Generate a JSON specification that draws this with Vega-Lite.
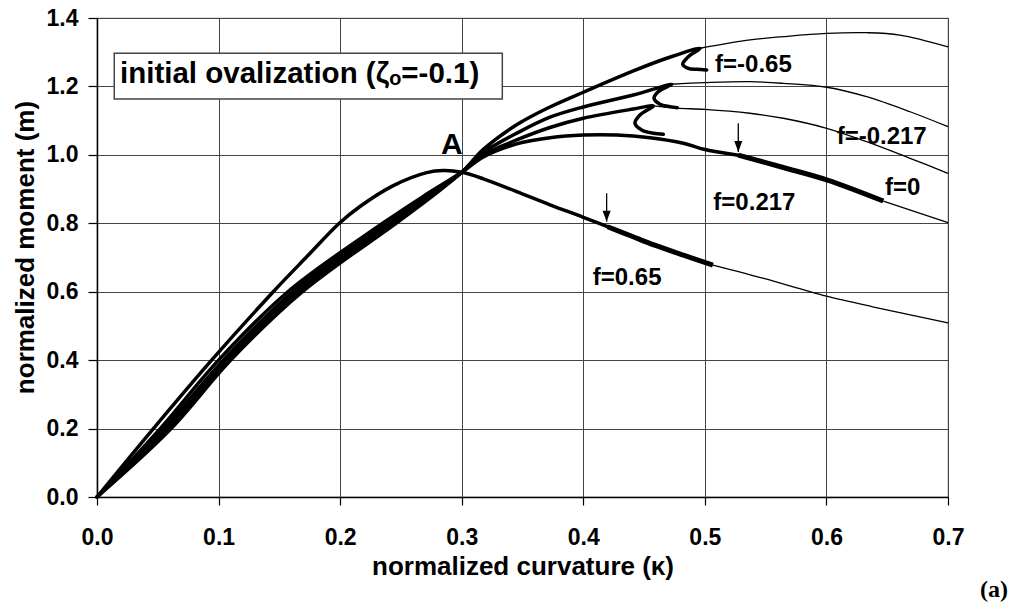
{
  "$schema": "https://vega.github.io/schema/vega-lite/v6.json",
  "width": 851,
  "height": 479,
  "autosize": {"type": "none"},
  "padding": {"left": 97, "top": 18, "right": 66, "bottom": 106},
  "background": "white",
  "config": {
    "font": "Liberation Sans",
    "view": {"stroke": "#808080", "strokeWidth": 1.2},
    "axis": {
      "grid": true,
      "gridColor": "#444444",
      "gridWidth": 1,
      "domainColor": "#000000",
      "domainWidth": 1.5,
      "tickColor": "#000000",
      "tickWidth": 1.2,
      "labelFlush": false,
      "labelOverlap": false,
      "labelFont": "Liberation Sans",
      "labelFontSize": 23,
      "labelFontWeight": "bold",
      "labelColor": "#000000",
      "titleFont": "Liberation Sans",
      "titleFontSize": 26,
      "titleFontWeight": "bold",
      "titleColor": "#000000"
    }
  },
  "datasets": {
    "thick": [
      {"s": "c1", "i": 0, "k": 0, "m": 0},
      {"s": "c1", "i": 1, "k": 0.061, "m": 0.2},
      {"s": "c1", "i": 2, "k": 0.11, "m": 0.4},
      {"s": "c1", "i": 3, "k": 0.169, "m": 0.6},
      {"s": "c1", "i": 4, "k": 0.246, "m": 0.8},
      {"s": "c1", "i": 5, "k": 0.274, "m": 0.874},
      {"s": "c1", "i": 6, "k": 0.3, "m": 0.949},
      {"s": "c1", "i": 7, "k": 0.3178, "m": 1.016},
      {"s": "c1", "i": 8, "k": 0.3452, "m": 1.088},
      {"s": "c1", "i": 9, "k": 0.3726, "m": 1.14},
      {"s": "c1", "i": 10, "k": 0.4, "m": 1.183},
      {"s": "c1", "i": 11, "k": 0.4412, "m": 1.2453},
      {"s": "c1", "i": 12, "k": 0.4686, "m": 1.2823},
      {"s": "c1", "i": 13, "k": 0.496, "m": 1.3116},
      {"s": "c1", "i": 14, "k": 0.4864, "m": 1.287},
      {"s": "c1", "i": 15, "k": 0.4818, "m": 1.265},
      {"s": "c1", "i": 16, "k": 0.4864, "m": 1.253},
      {"s": "c1", "i": 17, "k": 0.4933, "m": 1.25},
      {"s": "c1", "i": 18, "k": 0.5015, "m": 1.248},
      {"s": "c2", "i": 0, "k": 0, "m": 0},
      {"s": "c2", "i": 1, "k": 0.058, "m": 0.2},
      {"s": "c2", "i": 2, "k": 0.107, "m": 0.4},
      {"s": "c2", "i": 3, "k": 0.165, "m": 0.6},
      {"s": "c2", "i": 4, "k": 0.243, "m": 0.8},
      {"s": "c2", "i": 5, "k": 0.272, "m": 0.874},
      {"s": "c2", "i": 6, "k": 0.3, "m": 0.949},
      {"s": "c2", "i": 7, "k": 0.3178, "m": 1.007},
      {"s": "c2", "i": 8, "k": 0.3452, "m": 1.063},
      {"s": "c2", "i": 9, "k": 0.3726, "m": 1.11},
      {"s": "c2", "i": 10, "k": 0.4, "m": 1.14},
      {"s": "c2", "i": 11, "k": 0.4412, "m": 1.175},
      {"s": "c2", "i": 12, "k": 0.4727, "m": 1.2064},
      {"s": "c2", "i": 13, "k": 0.4617, "m": 1.1848},
      {"s": "c2", "i": 14, "k": 0.4582, "m": 1.1654},
      {"s": "c2", "i": 15, "k": 0.4631, "m": 1.1479},
      {"s": "c2", "i": 16, "k": 0.4713, "m": 1.141},
      {"s": "c2", "i": 17, "k": 0.4773, "m": 1.138},
      {"s": "c3", "i": 0, "k": 0, "m": 0},
      {"s": "c3", "i": 1, "k": 0.055, "m": 0.2},
      {"s": "c3", "i": 2, "k": 0.104, "m": 0.4},
      {"s": "c3", "i": 3, "k": 0.161, "m": 0.6},
      {"s": "c3", "i": 4, "k": 0.239, "m": 0.8},
      {"s": "c3", "i": 5, "k": 0.27, "m": 0.876},
      {"s": "c3", "i": 6, "k": 0.3, "m": 0.949},
      {"s": "c3", "i": 7, "k": 0.3178, "m": 1.0},
      {"s": "c3", "i": 8, "k": 0.3452, "m": 1.0436},
      {"s": "c3", "i": 9, "k": 0.3726, "m": 1.08},
      {"s": "c3", "i": 10, "k": 0.4, "m": 1.107},
      {"s": "c3", "i": 11, "k": 0.4412, "m": 1.134},
      {"s": "c3", "i": 12, "k": 0.4576, "m": 1.143},
      {"s": "c3", "i": 13, "k": 0.4466, "m": 1.1166},
      {"s": "c3", "i": 14, "k": 0.4425, "m": 1.0923},
      {"s": "c3", "i": 15, "k": 0.448, "m": 1.0728},
      {"s": "c3", "i": 16, "k": 0.4576, "m": 1.063},
      {"s": "c3", "i": 17, "k": 0.4658, "m": 1.06},
      {"s": "c4", "i": 0, "k": 0, "m": 0},
      {"s": "c4", "i": 1, "k": 0.052, "m": 0.2},
      {"s": "c4", "i": 2, "k": 0.1, "m": 0.4},
      {"s": "c4", "i": 3, "k": 0.157, "m": 0.6},
      {"s": "c4", "i": 4, "k": 0.235, "m": 0.8},
      {"s": "c4", "i": 5, "k": 0.268, "m": 0.878},
      {"s": "c4", "i": 6, "k": 0.3, "m": 0.949},
      {"s": "c4", "i": 7, "k": 0.3178, "m": 0.994},
      {"s": "c4", "i": 8, "k": 0.3452, "m": 1.032},
      {"s": "c4", "i": 9, "k": 0.3726, "m": 1.05},
      {"s": "c4", "i": 10, "k": 0.4, "m": 1.058},
      {"s": "c4", "i": 11, "k": 0.4275, "m": 1.058},
      {"s": "c4", "i": 12, "k": 0.4549, "m": 1.05},
      {"s": "c4", "i": 13, "k": 0.4823, "m": 1.034},
      {"s": "c4", "i": 14, "k": 0.5, "m": 1.0155},
      {"s": "c4", "i": 15, "k": 0.5275, "m": 0.999},
      {"s": "c5", "i": 0, "k": 0, "m": 0},
      {"s": "c5", "i": 1, "k": 0.0464, "m": 0.2},
      {"s": "c5", "i": 2, "k": 0.0943, "m": 0.4},
      {"s": "c5", "i": 3, "k": 0.145, "m": 0.6},
      {"s": "c5", "i": 4, "k": 0.1725, "m": 0.702},
      {"s": "c5", "i": 5, "k": 0.1993, "m": 0.8},
      {"s": "c5", "i": 6, "k": 0.2163, "m": 0.849},
      {"s": "c5", "i": 7, "k": 0.2437, "m": 0.91},
      {"s": "c5", "i": 8, "k": 0.2712, "m": 0.948},
      {"s": "c5", "i": 9, "k": 0.2849, "m": 0.954},
      {"s": "c5", "i": 10, "k": 0.3, "m": 0.949},
      {"s": "c5", "i": 11, "k": 0.3178, "m": 0.93},
      {"s": "c5", "i": 12, "k": 0.3452, "m": 0.8925},
      {"s": "c5", "i": 13, "k": 0.3726, "m": 0.854},
      {"s": "c5", "i": 14, "k": 0.4, "m": 0.8176},
      {"s": "c5", "i": 15, "k": 0.42, "m": 0.79}
    ],
    "bold": [
      {"s": "c4", "i": 0, "k": 0.5275, "m": 0.999},
      {"s": "c4", "i": 1, "k": 0.5645, "m": 0.963},
      {"s": "c4", "i": 2, "k": 0.6002, "m": 0.927},
      {"s": "c4", "i": 3, "k": 0.6468, "m": 0.865},
      {"s": "c5", "i": 0, "k": 0.42, "m": 0.79},
      {"s": "c5", "i": 1, "k": 0.44, "m": 0.762},
      {"s": "c5", "i": 2, "k": 0.4587, "m": 0.736},
      {"s": "c5", "i": 3, "k": 0.483, "m": 0.706},
      {"s": "c5", "i": 4, "k": 0.5066, "m": 0.678}
    ],
    "thin": [
      {"s": "c1", "i": 0, "k": 0.496, "m": 1.3116},
      {"s": "c1", "i": 1, "k": 0.5372, "m": 1.336},
      {"s": "c1", "i": 2, "k": 0.5645, "m": 1.3455},
      {"s": "c1", "i": 3, "k": 0.6002, "m": 1.355},
      {"s": "c1", "i": 4, "k": 0.633, "m": 1.357},
      {"s": "c1", "i": 5, "k": 0.6605, "m": 1.35},
      {"s": "c1", "i": 6, "k": 0.7, "m": 1.3155},
      {"s": "c2", "i": 0, "k": 0.4727, "m": 1.2064},
      {"s": "c2", "i": 1, "k": 0.5, "m": 1.211},
      {"s": "c2", "i": 2, "k": 0.537, "m": 1.214},
      {"s": "c2", "i": 3, "k": 0.5645, "m": 1.209},
      {"s": "c2", "i": 4, "k": 0.6002, "m": 1.1976},
      {"s": "c2", "i": 5, "k": 0.633, "m": 1.17},
      {"s": "c2", "i": 6, "k": 0.6688, "m": 1.126},
      {"s": "c2", "i": 7, "k": 0.7, "m": 1.0824},
      {"s": "c3", "i": 0, "k": 0.4576, "m": 1.143},
      {"s": "c3", "i": 1, "k": 0.4768, "m": 1.1365},
      {"s": "c3", "i": 2, "k": 0.5, "m": 1.133},
      {"s": "c3", "i": 3, "k": 0.537, "m": 1.1216},
      {"s": "c3", "i": 4, "k": 0.5645, "m": 1.107},
      {"s": "c3", "i": 5, "k": 0.6002, "m": 1.0777},
      {"s": "c3", "i": 6, "k": 0.633, "m": 1.0386},
      {"s": "c3", "i": 7, "k": 0.6688, "m": 0.99},
      {"s": "c3", "i": 8, "k": 0.7, "m": 0.946},
      {"s": "c4", "i": 0, "k": 0.6468, "m": 0.865},
      {"s": "c4", "i": 1, "k": 0.7, "m": 0.8017},
      {"s": "c5", "i": 0, "k": 0.5066, "m": 0.678},
      {"s": "c5", "i": 1, "k": 0.5485, "m": 0.639},
      {"s": "c5", "i": 2, "k": 0.58, "m": 0.607},
      {"s": "c5", "i": 3, "k": 0.6, "m": 0.587},
      {"s": "c5", "i": 4, "k": 0.638, "m": 0.556},
      {"s": "c5", "i": 5, "k": 0.7, "m": 0.509}
    ],
    "arrows": [
      {"k": 0.5275, "m": 1.0923, "m2": 1.0085},
      {"k": 0.4192, "m": 0.8877, "m2": 0.8048}
    ],
    "heads": [
      {"k": 0.5275, "m": 1.0085},
      {"k": 0.4192, "m": 0.8048}
    ],
    "box": [
      {"k": 0.0142, "k2": 0.3334, "m": 1.297, "m2": 1.1634}
    ],
    "boxtext": [
      {"k": 0.0189, "m": 1.209, "t": "initial ovalization (ζₒ=-0.1)"}
    ],
    "pointA": [
      {"k": 0.2918, "m": 1.0026, "t": "A"}
    ],
    "labels": [
      {"k": 0.5084, "m": 1.2432, "t": "f=-0.65"},
      {"k": 0.6084, "m": 1.0319, "t": "f=-0.217"},
      {"k": 0.6482, "m": 0.8828, "t": "f=0"},
      {"k": 0.507, "m": 0.839, "t": "f=0.217"},
      {"k": 0.4078, "m": 0.6195, "t": "f=0.65"}
    ],
    "tag": [
      {"k": 0.7263, "m": -0.2923, "t": "(a)"}
    ]
  },
  "encoding": {
    "x": {
      "field": "k",
      "type": "quantitative",
      "scale": {"domain": [0, 0.7], "nice": false, "zero": false},
      "axis": {
        "values": [0, 0.1, 0.2, 0.3, 0.4, 0.5, 0.6, 0.7],
        "format": ".1f",
        "title": "normalized curvature (κ)",
        "tickSize": 8,
        "labelPadding": 39,
        "labelBaseline": "alphabetic",
        "titleY": 77,
        "titleBaseline": "alphabetic"
      }
    },
    "y": {
      "field": "m",
      "type": "quantitative",
      "scale": {"domain": [0, 1.4], "nice": false, "zero": false},
      "axis": {
        "values": [0, 0.2, 0.4, 0.6, 0.8, 1.0, 1.2, 1.4],
        "format": ".1f",
        "title": "normalized moment (m)",
        "tickSize": 9,
        "labelPadding": 10,
        "labelBaseline": "middle",
        "titleX": -64,
        "titleY": 229,
        "titleBaseline": "alphabetic"
      }
    }
  },
  "layer": [
    {
      "data": {"name": "box"},
      "mark": {"type": "rect", "fill": "white", "stroke": "#444444", "strokeWidth": 1.5},
      "encoding": {"x2": {"field": "k2"}, "y2": {"field": "m2"}}
    },
    {
      "data": {"name": "thin"},
      "mark": {"type": "line", "color": "black", "strokeWidth": 1.3, "interpolate": "catmull-rom"},
      "encoding": {"detail": {"field": "s"}, "order": {"field": "i"}}
    },
    {
      "data": {"name": "thick"},
      "mark": {"type": "line", "color": "black", "strokeWidth": 3.5, "interpolate": "catmull-rom", "strokeJoin": "round", "strokeCap": "round"},
      "encoding": {"detail": {"field": "s"}, "order": {"field": "i"}}
    },
    {
      "data": {"name": "bold"},
      "mark": {"type": "line", "color": "black", "strokeWidth": 5, "interpolate": "catmull-rom"},
      "encoding": {"detail": {"field": "s"}, "order": {"field": "i"}}
    },
    {
      "data": {"name": "arrows"},
      "mark": {"type": "rule", "color": "black", "strokeWidth": 1.3},
      "encoding": {"y2": {"field": "m2"}}
    },
    {
      "data": {"name": "heads"},
      "mark": {"type": "point", "shape": "M-0.8,-2.2L0.8,-2.2L0,0Z", "size": 100, "filled": true, "color": "black", "opacity": 1, "strokeWidth": 0}
    },
    {
      "data": {"name": "boxtext"},
      "mark": {"type": "text", "align": "left", "baseline": "alphabetic", "fontSize": 29.5, "fontWeight": "bold", "color": "black"},
      "encoding": {"text": {"field": "t"}}
    },
    {
      "data": {"name": "pointA"},
      "mark": {"type": "text", "align": "center", "baseline": "alphabetic", "fontSize": 30, "fontWeight": "bold", "color": "black"},
      "encoding": {"text": {"field": "t"}}
    },
    {
      "data": {"name": "labels"},
      "mark": {"type": "text", "align": "left", "baseline": "alphabetic", "fontSize": 24, "fontWeight": "bold", "color": "black"},
      "encoding": {"text": {"field": "t"}}
    },
    {
      "data": {"name": "tag"},
      "mark": {"type": "text", "align": "left", "baseline": "alphabetic", "fontSize": 24, "fontWeight": "bold", "font": "Liberation Serif", "color": "black"},
      "encoding": {"text": {"field": "t"}}
    }
  ]
}
